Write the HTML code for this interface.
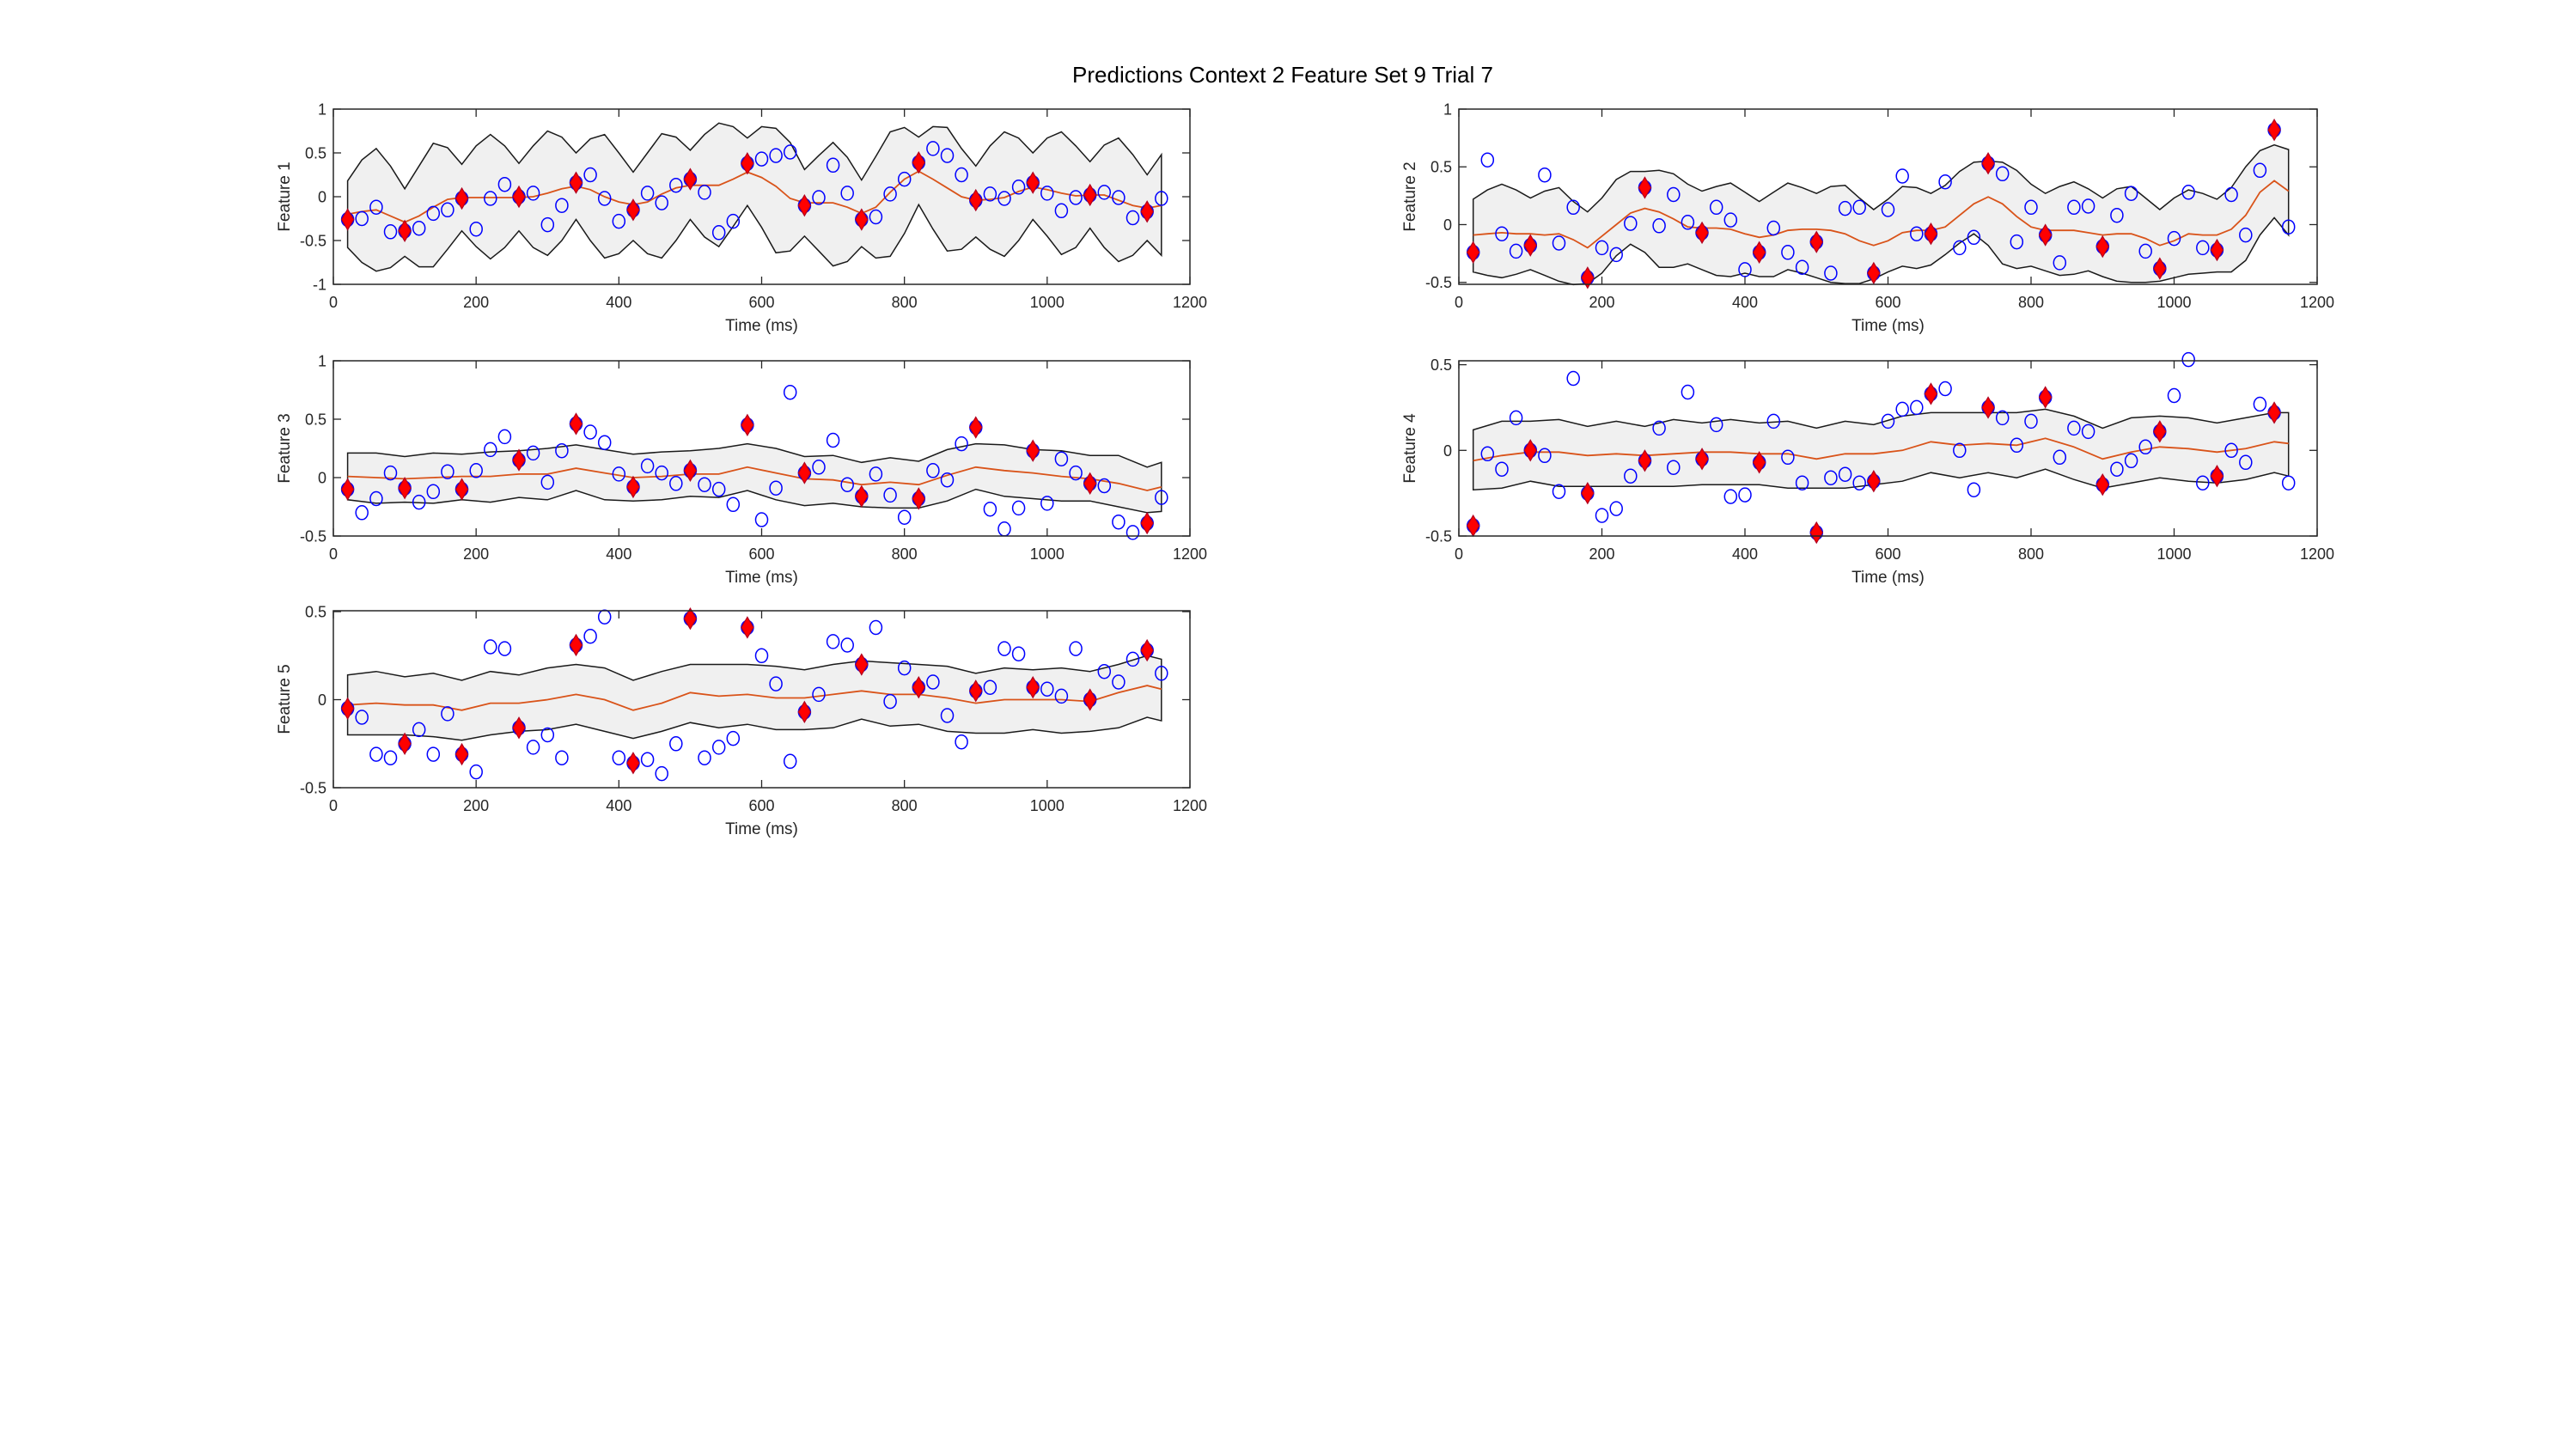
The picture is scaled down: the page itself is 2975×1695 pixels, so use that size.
<!DOCTYPE html>
<html><head><meta charset="utf-8"><title>Predictions Context 2 Feature Set 9 Trial 7</title>
<style>html,body{margin:0;padding:0;background:#fff;}svg{display:block;font-family:"Liberation Sans",Arial,sans-serif;}</style>
</head><body>
<svg id="fig" width="2975" height="1695" viewBox="0 0 2975 1695" xmlns="http://www.w3.org/2000/svg">
<rect width="2975" height="1695" fill="#fff"/>
<text x="1493" y="96" text-anchor="middle" font-size="26" fill="#000">Predictions Context 2 Feature Set 9 Trial 7</text>
</svg>
<script>
const obsTimes=[20,40,60,80,100,120,140,160,180,200,220,240,260,280,300,320,340,360,380,400,420,440,460,480,500,520,540,560,580,600,620,640,660,680,700,720,740,760,780,800,820,840,860,880,900,920,940,960,980,1000,1020,1040,1060,1080,1100,1120,1140,1160];
const predTimes=[20,100,180,260,340,420,500,580,660,740,820,900,980,1060,1140];
const coarseTimes=[20,60,100,140,180,220,260,300,340,380,420,460,500,540,580,620,660,700,740,780,820,860,900,940,980,1020,1060,1100,1140,1160];
const xTicks=[0,200,400,600,800,1000,1200];

const f1Obs=[-0.26,-0.25,-0.12,-0.40,-0.39,-0.36,-0.19,-0.15,-0.02,-0.37,-0.02,0.14,0.0,0.04,-0.32,-0.10,0.16,0.25,-0.02,-0.28,-0.15,0.04,-0.07,0.13,0.2,0.05,-0.41,-0.28,0.38,0.43,0.47,0.51,-0.1,-0.01,0.36,0.04,-0.26,-0.23,0.03,0.2,0.39,0.55,0.47,0.25,-0.04,0.03,-0.02,0.11,0.16,0.04,-0.16,-0.01,0.02,0.05,-0.01,-0.24,-0.17,-0.02];
const f1Pred=[-0.26,-0.39,-0.02,0.0,0.16,-0.15,0.2,0.38,-0.1,-0.26,0.39,-0.04,0.16,0.02,-0.17];
const f1Mean=[-0.2,-0.17,-0.15,-0.22,-0.29,-0.22,-0.12,-0.03,-0.01,-0.01,-0.01,-0.01,-0.01,0.0,0.04,0.09,0.12,0.08,0.0,-0.06,-0.09,-0.06,0.03,0.1,0.13,0.13,0.13,0.2,0.28,0.22,0.12,-0.02,-0.07,-0.07,-0.07,-0.12,-0.19,-0.12,0.05,0.2,0.29,0.2,0.1,0.0,-0.04,-0.03,-0.01,0.06,0.11,0.08,0.04,0.01,0.02,0.02,-0.04,-0.1,-0.13,-0.1];
const f1Upper=[0.18,0.42,0.55,0.35,0.09,0.35,0.61,0.56,0.37,0.58,0.71,0.58,0.38,0.58,0.75,0.68,0.5,0.66,0.71,0.5,0.28,0.5,0.72,0.68,0.53,0.71,0.84,0.8,0.67,0.8,0.78,0.62,0.31,0.47,0.62,0.45,0.19,0.46,0.74,0.79,0.68,0.8,0.79,0.55,0.35,0.58,0.74,0.67,0.5,0.67,0.74,0.58,0.4,0.59,0.67,0.48,0.25,0.48];
const f1Lower=[-0.58,-0.75,-0.85,-0.81,-0.68,-0.8,-0.8,-0.6,-0.39,-0.57,-0.71,-0.58,-0.39,-0.58,-0.67,-0.5,-0.26,-0.5,-0.7,-0.65,-0.5,-0.65,-0.7,-0.5,-0.26,-0.46,-0.57,-0.34,-0.1,-0.35,-0.64,-0.62,-0.45,-0.62,-0.79,-0.74,-0.57,-0.7,-0.68,-0.42,-0.09,-0.37,-0.62,-0.6,-0.46,-0.6,-0.68,-0.5,-0.26,-0.45,-0.66,-0.58,-0.36,-0.58,-0.74,-0.67,-0.5,-0.67];
const f1YTicks=[-1,-0.5,0,0.5,1];
const f1YTickLabels=["-1","-0.5","0","0.5","1"];

const f2Obs=[-0.24,0.56,-0.08,-0.23,-0.18,0.43,-0.16,0.15,-0.46,-0.2,-0.26,0.01,0.32,-0.01,0.26,0.02,-0.07,0.15,0.04,-0.39,-0.24,-0.03,-0.24,-0.37,-0.15,-0.42,0.14,0.15,-0.42,0.13,0.42,-0.08,-0.08,0.37,-0.2,-0.11,0.53,0.44,-0.15,0.15,-0.09,-0.33,0.15,0.16,-0.19,0.08,0.27,-0.23,-0.38,-0.12,0.28,-0.2,-0.22,0.26,-0.09,0.47,0.82,-0.02];
const f2Pred=[-0.24,-0.18,-0.46,0.32,-0.07,-0.24,-0.15,-0.42,-0.08,0.53,-0.09,-0.19,-0.38,-0.22,0.82];
const f2Mean=[-0.09,-0.08,-0.07,-0.08,-0.08,-0.09,-0.08,-0.13,-0.2,-0.1,0.0,0.1,0.14,0.11,0.05,-0.02,-0.03,-0.03,-0.04,-0.08,-0.11,-0.09,-0.05,-0.04,-0.04,-0.05,-0.08,-0.14,-0.18,-0.14,-0.07,-0.05,-0.05,-0.02,0.08,0.18,0.24,0.18,0.07,-0.02,-0.05,-0.05,-0.05,-0.07,-0.09,-0.08,-0.08,-0.12,-0.18,-0.14,-0.08,-0.09,-0.09,-0.04,0.08,0.28,0.38,0.29];
const f2Upper=[0.22,0.3,0.35,0.3,0.23,0.29,0.32,0.2,0.11,0.23,0.39,0.46,0.46,0.47,0.44,0.35,0.29,0.33,0.36,0.28,0.2,0.28,0.36,0.32,0.27,0.33,0.34,0.23,0.13,0.22,0.33,0.32,0.27,0.34,0.46,0.54,0.55,0.54,0.47,0.35,0.27,0.33,0.37,0.31,0.23,0.31,0.33,0.23,0.13,0.23,0.3,0.27,0.22,0.32,0.5,0.64,0.69,0.65];
const f2Lower=[-0.41,-0.44,-0.46,-0.43,-0.39,-0.44,-0.49,-0.52,-0.51,-0.42,-0.27,-0.17,-0.24,-0.37,-0.37,-0.34,-0.39,-0.44,-0.45,-0.42,-0.45,-0.45,-0.39,-0.42,-0.46,-0.5,-0.51,-0.51,-0.47,-0.41,-0.36,-0.38,-0.35,-0.26,-0.16,-0.08,-0.18,-0.34,-0.38,-0.36,-0.4,-0.44,-0.43,-0.4,-0.45,-0.49,-0.5,-0.5,-0.49,-0.46,-0.43,-0.42,-0.41,-0.41,-0.31,-0.09,0.06,-0.09];
const f2YTicks=[-0.5,0,0.5,1];
const f2YTickLabels=["-0.5","0","0.5","1"];

const f3Obs=[-0.1,-0.30,-0.18,0.04,-0.09,-0.21,-0.12,0.05,-0.1,0.06,0.24,0.35,0.15,0.21,-0.04,0.23,0.46,0.39,0.30,0.03,-0.08,0.10,0.04,-0.05,0.06,-0.06,-0.10,-0.23,0.45,-0.36,-0.09,0.73,0.04,0.09,0.32,-0.06,-0.16,0.03,-0.15,-0.34,-0.18,0.06,-0.02,0.29,0.43,-0.27,-0.44,-0.26,0.23,-0.22,0.16,0.04,-0.05,-0.07,-0.38,-0.47,-0.39,-0.17];
const f3Pred=[-0.1,-0.09,-0.1,0.15,0.46,-0.08,0.06,0.45,0.04,-0.16,-0.18,0.43,0.23,-0.05,-0.39];
const f3Mean=[0.01,0.0,-0.01,0.0,0.01,0.01,0.03,0.03,0.08,0.04,0.0,0.01,0.03,0.03,0.09,0.04,-0.01,-0.02,-0.06,-0.04,-0.06,0.02,0.09,0.06,0.04,0.01,-0.01,-0.05,-0.11,-0.08];
const f3Upper=[0.21,0.21,0.18,0.21,0.20,0.22,0.23,0.25,0.28,0.24,0.20,0.22,0.23,0.25,0.29,0.25,0.18,0.19,0.13,0.17,0.14,0.24,0.29,0.28,0.24,0.23,0.19,0.19,0.09,0.13];
const f3Lower=[-0.19,-0.22,-0.21,-0.22,-0.19,-0.21,-0.17,-0.19,-0.11,-0.19,-0.2,-0.19,-0.16,-0.17,-0.11,-0.19,-0.24,-0.22,-0.25,-0.26,-0.26,-0.2,-0.1,-0.16,-0.18,-0.2,-0.2,-0.25,-0.3,-0.29];
const f3YTicks=[-0.5,0,0.5,1];
const f3YTickLabels=["-0.5","0","0.5","1"];

const f4Obs=[-0.44,-0.02,-0.11,0.19,0.0,-0.03,-0.24,0.42,-0.25,-0.38,-0.34,-0.15,-0.06,0.13,-0.10,0.34,-0.05,0.15,-0.27,-0.26,-0.07,0.17,-0.04,-0.19,-0.48,-0.16,-0.14,-0.19,-0.18,0.17,0.24,0.25,0.33,0.36,0.0,-0.23,0.25,0.19,0.03,0.17,0.31,-0.04,0.13,0.11,-0.2,-0.11,-0.06,0.02,0.11,0.32,0.53,-0.19,-0.15,0.0,-0.07,0.27,0.22,-0.19];
const f4Pred=[-0.44,0.0,-0.25,-0.06,-0.05,-0.07,-0.48,-0.18,0.33,0.25,0.31,-0.2,0.11,-0.15,0.22];
const f4Mean=[-0.06,-0.03,-0.01,-0.01,-0.03,-0.02,-0.03,-0.02,-0.01,-0.01,-0.02,-0.02,-0.05,-0.02,-0.02,0.0,0.05,0.03,0.04,0.03,0.07,0.02,-0.05,-0.01,0.02,0.01,-0.01,0.01,0.05,0.04];
const f4Upper=[0.12,0.17,0.17,0.18,0.14,0.17,0.14,0.18,0.16,0.18,0.16,0.17,0.13,0.17,0.15,0.20,0.22,0.22,0.22,0.22,0.24,0.20,0.13,0.19,0.20,0.19,0.16,0.19,0.22,0.22];
const f4Lower=[-0.23,-0.22,-0.18,-0.21,-0.21,-0.21,-0.21,-0.21,-0.2,-0.2,-0.2,-0.22,-0.22,-0.22,-0.2,-0.18,-0.13,-0.16,-0.13,-0.16,-0.11,-0.17,-0.22,-0.19,-0.16,-0.18,-0.19,-0.17,-0.13,-0.15];
const f4YTicks=[-0.5,0,0.5];
const f4YTickLabels=["-0.5","0","0.5"];

const f5Obs=[-0.05,-0.10,-0.31,-0.33,-0.25,-0.17,-0.31,-0.08,-0.31,-0.41,0.30,0.29,-0.16,-0.27,-0.2,-0.33,0.31,0.36,0.47,-0.33,-0.36,-0.34,-0.42,-0.25,0.46,-0.33,-0.27,-0.22,0.41,0.25,0.09,-0.35,-0.07,0.03,0.33,0.31,0.2,0.41,-0.01,0.18,0.07,0.1,-0.09,-0.24,0.05,0.07,0.29,0.26,0.07,0.06,0.02,0.29,0.0,0.16,0.1,0.23,0.28,0.15];
const f5Pred=[-0.05,-0.25,-0.31,-0.16,0.31,-0.36,0.46,0.41,-0.07,0.2,0.07,0.05,0.07,0.0,0.28];
const f5Mean=[-0.03,-0.02,-0.03,-0.03,-0.06,-0.02,-0.02,0.0,0.03,0.0,-0.06,-0.02,0.04,0.02,0.03,0.01,0.01,0.03,0.05,0.03,0.03,0.01,-0.02,0.0,0.0,0.0,-0.01,0.04,0.08,0.06];
const f5Upper=[0.14,0.16,0.13,0.15,0.11,0.16,0.14,0.18,0.2,0.18,0.11,0.16,0.2,0.2,0.2,0.19,0.17,0.2,0.22,0.21,0.2,0.19,0.15,0.18,0.17,0.18,0.16,0.2,0.25,0.23];
const f5Lower=[-0.2,-0.2,-0.2,-0.21,-0.23,-0.2,-0.18,-0.17,-0.14,-0.18,-0.22,-0.18,-0.13,-0.16,-0.14,-0.17,-0.17,-0.16,-0.11,-0.15,-0.14,-0.18,-0.19,-0.19,-0.17,-0.19,-0.18,-0.16,-0.1,-0.12];
const f5YTicks=[-0.5,0,0.5];
const f5YTickLabels=["-0.5","0","0.5"];

const NS="http://www.w3.org/2000/svg";
const svg=document.getElementById('fig');
function mk(tag,attrs,parent){const e=document.createElementNS(NS,tag);for(const k in attrs)e.setAttribute(k,attrs[k]);(parent||svg).appendChild(e);return e;}

function drawPanel(p){
  const g=mk('g',{});
  
  
  const sx=v=>p.x0+(v-0)/(1200-0)*(p.x1-p.x0);
  const sy=v=>p.y1-(v-p.ymin)/(p.ymax-p.ymin)*(p.y1-p.y0);
  let d='';
  p.bandX.forEach((t,i)=>{d+=(i?'L':'M')+sx(t).toFixed(1)+','+sy(p.upper[i]).toFixed(1);});
  for(let i=p.bandX.length-1;i>=0;i--){d+='L'+sx(p.bandX[i]).toFixed(1)+','+sy(p.lower[i]).toFixed(1);}
  d+='Z';
  const band=mk('path',{d:d,fill:'#f0f0f0',stroke:'#1a1a1a','stroke-width':1.5,'stroke-linejoin':'miter'},g);
  
  
  let md='';
  p.bandX.forEach((t,i)=>{md+=(i?'L':'M')+sx(t).toFixed(1)+','+sy(p.mean[i]).toFixed(1);});
  const ml=mk('path',{d:md,fill:'none',stroke:'#d95319','stroke-width':1.8},g);
  
  
  p.obs.forEach((v,i)=>{
    const c=mk('ellipse',{cx:sx(obsTimes[i]).toFixed(1),cy:sy(v).toFixed(1),rx:7,ry:8,fill:'none',stroke:'#0000ff','stroke-width':1.5},g);
    
    
  });
  p.pred.forEach((v,i)=>{
    const cx=sx(predTimes[i]),cy=sy(v);
    const dm=mk('path',{d:`M${cx},${cy-12}L${cx+7},${cy}L${cx},${cy+12}L${cx-7},${cy}Z`,fill:'#ff0000',stroke:'#b00020','stroke-width':1.2},g);
    
    
  });
  const box=mk('rect',{x:p.x0,y:p.y0,width:p.x1-p.x0,height:p.y1-p.y0,fill:'none',stroke:'#262626','stroke-width':1.5},g);
  
  
  xTicks.forEach(t=>{
    const x=sx(t);
    mk('line',{x1:x,y1:p.y1,x2:x,y2:p.y1-9,stroke:'#262626','stroke-width':1.3},g);
    mk('line',{x1:x,y1:p.y0,x2:x,y2:p.y0+9,stroke:'#262626','stroke-width':1.3},g);
    const tl=mk('text',{x:x,y:p.y1+27,'text-anchor':'middle','font-size':18,fill:'#262626'},g);
    tl.textContent=String(t);
    
    
  });
  p.yTicks.forEach((t,i)=>{
    const y=sy(t);
    mk('line',{x1:p.x0,y1:y,x2:p.x0+9,y2:y,stroke:'#262626','stroke-width':1.3},g);
    mk('line',{x1:p.x1,y1:y,x2:p.x1-9,y2:y,stroke:'#262626','stroke-width':1.3},g);
    const tl=mk('text',{x:p.x0-8,y:y+6.5,'text-anchor':'end','font-size':18,fill:'#262626'},g);
    tl.textContent=p.yTickLabels[i];
    
    
  });
  const xl=mk('text',{x:(p.x0+p.x1)/2,y:p.y1+54,'text-anchor':'middle','font-size':19,fill:'#262626'},g);
  xl.textContent='Time (ms)';
  
  
  const yc=(p.y0+p.y1)/2, yx=p.x0-51;
  const yl=mk('text',{x:yx,y:yc,'text-anchor':'middle','font-size':19,fill:'#262626',transform:`rotate(-90 ${yx} ${yc})`},g);
  yl.textContent=p.label;
  
  
}

drawPanel({name:'feature-1-panel',label:'Feature 1',x0:388,x1:1385,y0:127,y1:331,ymin:-1,ymax:1,obs:f1Obs,pred:f1Pred,mean:f1Mean,upper:f1Upper,lower:f1Lower,bandX:obsTimes,yTicks:f1YTicks,yTickLabels:f1YTickLabels});
drawPanel({name:'feature-2-panel',label:'Feature 2',x0:1698,x1:2697,y0:127,y1:331,ymin:-0.517,ymax:1,obs:f2Obs,pred:f2Pred,mean:f2Mean,upper:f2Upper,lower:f2Lower,bandX:obsTimes,yTicks:f2YTicks,yTickLabels:f2YTickLabels});
drawPanel({name:'feature-3-panel',label:'Feature 3',x0:388,x1:1385,y0:420,y1:624,ymin:-0.5,ymax:1,obs:f3Obs,pred:f3Pred,mean:f3Mean,upper:f3Upper,lower:f3Lower,bandX:coarseTimes,yTicks:f3YTicks,yTickLabels:f3YTickLabels});
drawPanel({name:'feature-4-panel',label:'Feature 4',x0:1698,x1:2697,y0:420,y1:624,ymin:-0.5,ymax:0.523,obs:f4Obs,pred:f4Pred,mean:f4Mean,upper:f4Upper,lower:f4Lower,bandX:coarseTimes,yTicks:f4YTicks,yTickLabels:f4YTickLabels});
drawPanel({name:'feature-5-panel',label:'Feature 5',x0:388,x1:1385,y0:711,y1:917,ymin:-0.5,ymax:0.505,obs:f5Obs,pred:f5Pred,mean:f5Mean,upper:f5Upper,lower:f5Lower,bandX:coarseTimes,yTicks:f5YTicks,yTickLabels:f5YTickLabels});
</script>
</body></html>
